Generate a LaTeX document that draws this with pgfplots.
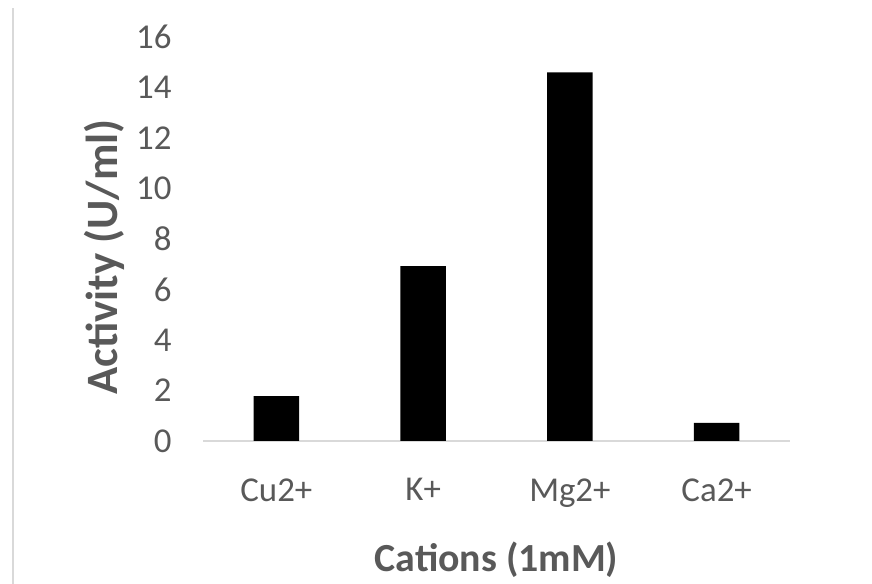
\documentclass[border=0pt]{standalone}
\usepackage{pgfplots}
\pgfplotsset{compat=1.18}
\usepackage{fontspec}
\setmainfont{Carlito}
\definecolor{tickgray}{HTML}{595959}
\definecolor{basegray}{HTML}{D9D9D9}
\begin{document}
\begin{tikzpicture}[x=1bp,y=1bp]
\useasboundingbox (0,0) rectangle (872,584);
\draw[basegray, line width=2bp] (13,0) -- (13,576);
\begin{axis}[
  at={(203bp,143bp)}, anchor=south west,
  scale only axis, width=587bp, height=404bp,
  xmin=-0.5, xmax=3.5, ymin=0, ymax=16,
  ytick={0,2,...,16},
  xtick={0,1,2,3}, xticklabels={Cu2+,K+,Mg2+,Ca2+},
  axis lines=left,
  axis line style={-},
  y axis line style={draw=none},
  x axis line style={draw=basegray, line width=1.6bp},
  major tick length=0pt,
  /pgf/number format/assume math mode=true,
  yticklabel style={font=\fontsize{35}{35}\selectfont, text=tickgray, xshift=-28bp},
  xticklabel style={font=\fontsize{35}{35}\selectfont, text=tickgray, yshift=-34bp},
  xlabel={\textbf{Cations (1mM)}},
  ylabel={\textbf{Activity (U/ml)}},
  xlabel style={font=\fontsize{40}{40}\selectfont, text=tickgray, at={(axis description cs:0.5,-0.2946)}, anchor=center},
  ylabel style={font=\fontsize{45}{45}\selectfont, text=tickgray, at={(axis description cs:-0.1687,0.455)}, anchor=center},
  clip=false,
]
\addplot[ybar, bar width=0.31, fill=black, draw=none] coordinates {(0,1.78) (1,6.93) (2,14.6) (3,0.72)};
\end{axis}
\end{tikzpicture}
\end{document}
